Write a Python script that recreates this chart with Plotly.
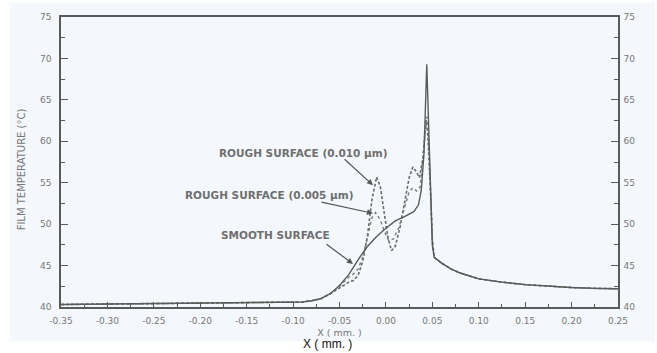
import plotly.graph_objects as go

# ---- data ----
x_base = [-0.35, -0.30, -0.25, -0.20, -0.15, -0.12, -0.10, -0.09, -0.08, -0.07, -0.06]
t_base = [40.3, 40.35, 40.4, 40.45, 40.5, 40.5, 40.55, 40.6, 40.75, 41.0, 41.6]

x_tail = [0.052, 0.06, 0.07, 0.08, 0.10, 0.125, 0.15, 0.175, 0.20, 0.225, 0.25]
t_tail = [46.0, 45.3, 44.6, 44.1, 43.4, 43.0, 42.7, 42.5, 42.35, 42.25, 42.2]

x_smooth_mid = [-0.05, -0.04, -0.03, -0.02, -0.01, 0.00, 0.01, 0.02, 0.03, 0.035, 0.038, 0.041, 0.044, 0.046, 0.048, 0.050]
t_smooth_mid = [42.6, 43.9, 45.7, 47.3, 48.5, 49.5, 50.4, 50.9, 51.5, 52.3, 54.0, 58.5, 69.3, 62.0, 54.0, 47.5]

x_r010_mid = [-0.05, -0.04, -0.035, -0.03, -0.025, -0.02, -0.015, -0.01, -0.006, -0.002, 0.002, 0.006, 0.010,
              0.015, 0.020, 0.025, 0.029, 0.033, 0.036, 0.040, 0.043, 0.045, 0.048, 0.050]
t_r010_mid = [42.3, 43.0, 43.2, 43.8, 45.5, 48.5, 53.0, 55.7, 54.5, 51.5, 48.5, 46.8, 47.3,
              49.5, 52.5, 55.6, 56.9, 56.3, 55.6, 58.0, 62.5, 61.0, 54.0, 48.0]

x_r005_mid = [-0.05, -0.04, -0.035, -0.03, -0.025, -0.02, -0.015, -0.011, -0.006, -0.002, 0.003, 0.008,
              0.014, 0.020, 0.025, 0.029, 0.033, 0.037, 0.041, 0.044, 0.046, 0.049, 0.050]
t_r005_mid = [42.5, 43.6, 44.0, 44.6, 46.0, 48.3, 50.8, 51.4, 50.5, 49.2, 48.0, 48.2,
              49.6, 52.0, 53.9, 54.4, 54.0, 54.5, 59.0, 63.0, 60.0, 51.0, 48.5]

x_smooth = x_base + x_smooth_mid + x_tail
t_smooth = t_base + t_smooth_mid + t_tail
x_r010 = x_base + x_r010_mid + x_tail
t_r010 = t_base + t_r010_mid + t_tail
x_r005 = x_base + x_r005_mid + x_tail
t_r005 = t_base + t_r005_mid + t_tail

x_ticks = [-0.35, -0.30, -0.25, -0.20, -0.15, -0.10, -0.05, 0.00, 0.05, 0.10, 0.15, 0.20, 0.25]
y_ticks = [40, 45, 50, 55, 60, 65, 70, 75]

# label text, label position (x, T), arrow tail (x, T), arrow head (x, T)
label_texts = ["ROUGH SURFACE (0.010 \u03bcm)", "ROUGH SURFACE (0.005 \u03bcm)", "SMOOTH SURFACE"]
label_pos = [(-0.0888, 58.6), (-0.1254, 53.5), (-0.1189, 48.7)]
arrow_tail = [(-0.0462, 58.0), (-0.071, 52.7), (-0.0656, 47.7)]
arrow_head = [(-0.0139, 54.7), (-0.0139, 51.3), (-0.0354, 45.2)]

BG = "#f4f8fc"
LINE = "#5a5a5a"
TXT = "#777777"
FONT = "DejaVu Sans"

fig = go.Figure()
fig.add_trace(go.Scatter(x=x_r010, y=t_r010, mode="lines",
                         line=dict(color="#6a6a6a", width=1.6, dash="3px,2px"), showlegend=False))
fig.add_trace(go.Scatter(x=x_r005, y=t_r005, mode="lines",
                         line=dict(color="#7a7a7a", width=1.4, dash="dot"), showlegend=False))
fig.add_trace(go.Scatter(x=x_smooth, y=t_smooth, mode="lines",
                         line=dict(color=LINE, width=1.4), showlegend=False))
# invisible trace for right axis
fig.add_trace(go.Scatter(x=[x_ticks[0]], y=[y_ticks[0]], yaxis="y2", mode="markers",
                         marker=dict(opacity=0), showlegend=False, hoverinfo="skip"))

font_tick = dict(family=FONT, size=9, color=TXT)

fig.update_layout(
    width=657, height=353,
    margin=dict(l=61, r=39, t=12, b=46),
    paper_bgcolor="white",
    plot_bgcolor=BG,
    xaxis=dict(range=[-0.35, 0.25], tickvals=x_ticks,
               ticktext=[f"{v:.2f}" for v in x_ticks],
               ticks="inside", ticklen=5, tickcolor=LINE, tickwidth=1.2,
               minor=dict(dtick=0.025, tick0=-0.35, ticks="inside", ticklen=3, tickcolor=LINE),
               showline=True, linecolor=LINE, linewidth=1.5, mirror=True,
               showgrid=False, zeroline=False, tickfont=font_tick, ticklabelstandoff=4,
               title=dict(text="X ( mm. )", font=dict(family=FONT, size=9.5, color=TXT), standoff=5)),
    yaxis=dict(range=[40, 75], tickvals=y_ticks,
               ticks="inside", ticklen=7, tickcolor=LINE, tickwidth=1.2,
               minor=dict(dtick=2.5, tick0=40, ticks="inside", ticklen=4, tickcolor=LINE),
               showline=True, linecolor=LINE, linewidth=1.5,
               showgrid=False, zeroline=False, tickfont=font_tick, ticklabelstandoff=6),
    yaxis2=dict(range=[40, 75], tickvals=y_ticks, overlaying="y", side="right",
                ticks="inside", ticklen=7, tickcolor=LINE, tickwidth=1.2,
                minor=dict(dtick=2.5, tick0=40, ticks="inside", ticklen=4, tickcolor=LINE),
                showline=True, linecolor=LINE, linewidth=1.5,
                showgrid=False, zeroline=False, tickfont=font_tick, ticklabelstandoff=2),
    shapes=[dict(type="rect", xref="paper", yref="paper", x0=-0.092, x1=1.066, y0=-0.119, y1=1.05,
                 fillcolor=BG, line=dict(width=0), layer="below")],
)

# y-axis title placed where it sits in the reference
fig.add_annotation(xref="paper", yref="paper", x=(21 - 61) / 557, y=(307 - 167) / 295,
                   text="FILM TEMPERATURE (\u00b0C)", textangle=-90, showarrow=False,
                   xanchor="center", yanchor="middle",
                   font=dict(family=FONT, size=10, color=TXT))

ann_font = dict(family=FONT, size=10.5, color="#6f6f6f", weight="bold")
for text, (tx, ty), (ax_, ay_), (hx, hy) in zip(label_texts, label_pos, arrow_tail, arrow_head):
    fig.add_annotation(x=tx, y=ty, text=text, showarrow=False, font=ann_font, xanchor="center")
    fig.add_annotation(x=hx, y=hy, ax=ax_, ay=ay_, axref="x", ayref="y", text="", showarrow=True,
                       arrowhead=2, arrowsize=1, arrowwidth=1.2, arrowcolor="#555")

fig.add_annotation(xref="paper", yref="paper", x=(327 - 61) / 557, y=(307 - 353) / 295,
                   text="X ( mm. )", showarrow=False, yanchor="bottom", borderpad=0,
                   font=dict(family="Liberation Sans, Arial", size=12, color="#111"))

fig.write_html("out.html")
